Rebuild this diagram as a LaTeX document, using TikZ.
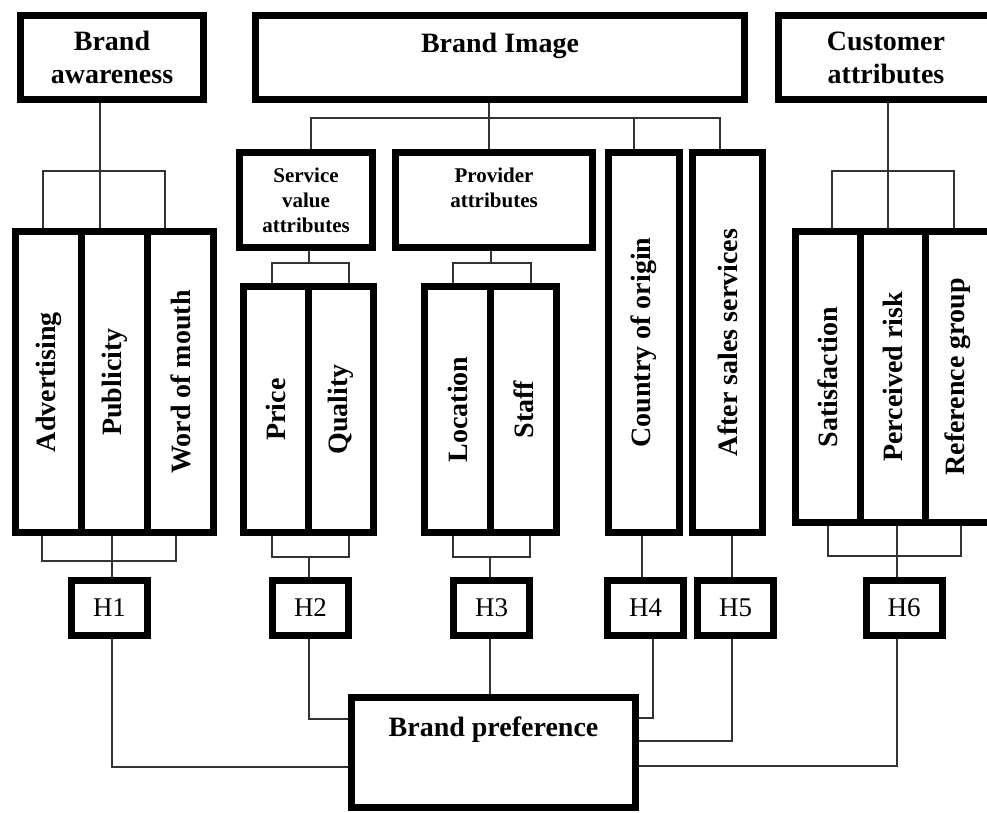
\documentclass[tikz,border=0pt]{standalone}
\usepackage{fontspec}
\setmainfont{Liberation Serif}
\usetikzlibrary{calc}

\tikzset{
  box/.style={draw=black,line width=7pt,inner sep=0pt,align=center,
    font=\bfseries\fontsize{28}{33}\selectfont},
  subbox/.style={box,font=\bfseries\fontsize{21}{25}\selectfont},
  col/.style={box,minimum height=#1},
  hyp/.style={draw=black,line width=7pt,inner sep=0pt,minimum width=76pt,
    minimum height=55pt,font=\fontsize{27}{30}\selectfont},
  link/.style={draw=black!80,line width=1.3pt},
}

\begin{document}
\begin{tikzpicture}[x=1pt,y=-1pt]

\useasboundingbox (0,0) rectangle (987,812);
\clip (0,0) rectangle (987,812);

% ---- top level constructs ----
\node[box,minimum width=183pt,minimum height=84pt] (aware) at (112,57.5) {Brand\\awareness};
\node[box,minimum width=489pt,minimum height=84pt,text depth=30pt] (image) at (500,57.5) {Brand Image};
\node[box,minimum width=215pt,minimum height=84pt] (cust) at (886,57.5) {Customer\\attributes};

% ---- brand image sub-constructs ----
\node[subbox,minimum width=133pt,minimum height=95pt] (sva) at (306,200) {Service\\value\\attributes};
\node[subbox,minimum width=197pt,minimum height=95pt,text depth=24pt] (prov) at (494,200) {Provider\\attributes};
\node[col=380pt,minimum width=71pt] (country) at (644,342.5) {\rotatebox{90}{Country of origin}};
\node[col=380pt,minimum width=70pt] (after) at (727.5,342.5) {\rotatebox{90}{After sales services}};

% ---- dimensions (vertical columns) ----
\node[col=301pt,minimum width=66pt] (adv) at (48.5,382) {\rotatebox{90}{Advertising}};
\node[col=301pt,minimum width=66pt] (pub) at (114.5,382) {\rotatebox{90}{Publicity}};
\node[col=301pt,minimum width=66pt] (wom) at (180.5,382) {\rotatebox{90}{Word of mouth}};

\node[col=246pt,minimum width=65pt] (price) at (276,409.5) {\rotatebox{90}{Price}};
\node[col=246pt,minimum width=65pt] (quality) at (341,409.5) {\rotatebox{90}{Quality}};

\node[col=246pt,minimum width=66pt] (loc) at (457.5,409.5) {\rotatebox{90}{Location}};
\node[col=246pt,minimum width=66pt] (staff) at (523.5,409.5) {\rotatebox{90}{Staff}};

\node[col=291pt,minimum width=65pt] (satis) at (828,377) {\rotatebox{90}{Satisfaction}};
\node[col=291pt,minimum width=65pt] (risk) at (893,377) {\rotatebox{90}{Perceived risk}};
\node[col=291pt,minimum width=65pt] (refg) at (958,377) {\rotatebox{90}{Reference group}};

% ---- hypotheses ----
\foreach \n/\x in {1/109.5,2/310.5,3/491.5,4/645.5,5/735.5,6/904} {
  \node[hyp] (h\n) at (\x,608) {H\n};
}

% ---- outcome ----
\node[box,minimum width=284pt,minimum height=110pt,text depth=52pt] (pref) at (493.5,752.5) {Brand preference};

% ---- connectors: top ----
\draw[link] ([xshift=-12pt]aware.south) -- ([xshift=-14.5pt]pub.north);
\draw[link] ([xshift=-5.5pt]adv.north) -- ++(0,-57) -| ([xshift=-15.5pt]wom.north);

\draw[link] ([xshift=-11pt]image.south) -- ++(0,15) coordinate (bus);
\draw[link] ([xshift=5pt]sva.north) |- (bus) -| ([xshift=-7.5pt]after.north);
\draw[link] (bus) -- ([xshift=-5pt]prov.north);
\draw[link] ([xshift=-10pt]country.north) -- ++(0,-31);

\draw[link] ([xshift=3pt]sva.south) -- ++(0,12);
\draw[link] ([xshift=-4pt]price.north) -- ++(0,-20) -| ([xshift=8pt]quality.north);
\draw[link] ([xshift=-3pt]prov.south) -- ++(0,12);
\draw[link] ([xshift=-4.5pt]loc.north) -- ++(0,-20) -| ([xshift=7.5pt]staff.north);

\draw[link] ([xshift=2pt]cust.south) -- ([xshift=-5pt]risk.north);
\draw[link] ([xshift=4pt]satis.north) -- ++(0,-57) -| ([xshift=-4pt]refg.north);

% ---- connectors: to hypotheses ----
\draw[link] ([xshift=-6.5pt]adv.south) -- ++(0,25) -| ([xshift=-4.5pt]wom.south);
\draw[link] ([xshift=-2.5pt]pub.south) -- ([xshift=2.5pt]h1.north);
\draw[link] ([xshift=-4pt]price.south) -- ++(0,21) -| ([xshift=8pt]quality.south);
\draw[link] ([xshift=-1.5pt]h2.north) -- ++(0,-20);
\draw[link] ([xshift=-4.5pt]loc.south) -- ++(0,21) -| ([xshift=6.5pt]staff.south);
\draw[link] ([xshift=-1.5pt]h3.north) -- ++(0,-20);
\draw[link] ([xshift=-2pt]country.south) -- ([xshift=-3.5pt]h4.north);
\draw[link] ([xshift=4.5pt]after.south) -- ([xshift=-3.5pt]h5.north);
\draw[link] (satis.south) -- ++(0,30) -| ([xshift=3pt]refg.south);
\draw[link] ([xshift=4pt]risk.south) -- ([xshift=-7pt]h6.north);

% ---- connectors: to brand preference ----
\draw[link] ([xshift=2.5pt]h1.south) |- ([yshift=-14.5pt]pref.west);
\draw[link] ([xshift=-1.5pt]h2.south) |- ([yshift=33.5pt]pref.west);
\draw[link] ([xshift=-1.5pt]h3.south) -- ([xshift=-3.5pt]pref.north);
\draw[link] ([xshift=7.5pt]h4.south) |- ([yshift=34.5pt]pref.east);
\draw[link] ([xshift=-3.5pt]h5.south) |- ([yshift=11.5pt]pref.east);
\draw[link] ([xshift=-7pt]h6.south) |- ([yshift=-13.5pt]pref.east);

\end{tikzpicture}
\end{document}
